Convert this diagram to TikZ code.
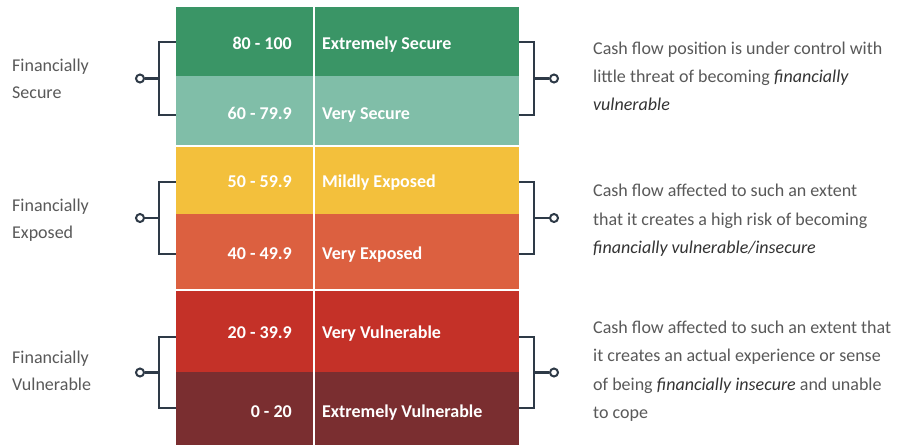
\documentclass[tikz,border=0pt]{standalone}
\usepackage{fontspec}
\setmainfont{Carlito}
\definecolor{cA}{HTML}{3A9566}
\definecolor{cB}{HTML}{80BEA8}
\definecolor{cC}{HTML}{F3C03C}
\definecolor{cD}{HTML}{DC6040}
\definecolor{cE}{HTML}{C43128}
\definecolor{cF}{HTML}{7A2E30}
\definecolor{brk}{HTML}{2E3A47}
\definecolor{txt}{HTML}{595959}
\definecolor{emtxt}{HTML}{333333}
\begin{document}
\begin{tikzpicture}[x=1pt,y=-1pt,
  cellL/.style={draw=none, inner sep=0, minimum width=137pt},
  cellR/.style={draw=none, inner sep=0, minimum width=204pt},
  num/.style={font=\fontsize{18}{22}\selectfont\bfseries, text=white, anchor=base east, inner sep=0},
  lab/.style={font=\fontsize{18}{22}\selectfont\bfseries, text=white, anchor=base west, inner sep=0},
  side/.style={font=\fontsize{18}{27}\selectfont, text=txt, anchor=base west, inner sep=0, align=left},
  desc/.style={font=\fontsize{18}{28.2}\selectfont, text=txt, anchor=base west, inner sep=0, align=left},
  brack/.style={draw=brk, line width=2.2pt},
  dot/.style={circle, draw=brk, line width=2pt, fill=white, inner sep=0, minimum size=8pt}
]
\useasboundingbox (0,0) rectangle (902,445);
\fill[white] (0,0) rectangle (902,445);

% cells
\node[cellL, fill=cA, minimum height=69pt]   (r1l) at (244.5,41.5) {};
\node[cellR, fill=cA, minimum height=69pt]   (r1r) at (417,41.5) {};
\node[cellL, fill=cB, minimum height=68.5pt] (r2l) at (244.5,110.25) {};
\node[cellR, fill=cB, minimum height=68.5pt] (r2r) at (417,110.25) {};
\node[cellL, fill=cC, minimum height=67.5pt] (r3l) at (244.5,180.25) {};
\node[cellR, fill=cC, minimum height=67.5pt] (r3r) at (417,180.25) {};
\node[cellL, fill=cD, minimum height=74.7pt] (r4l) at (244.5,251.35) {};
\node[cellR, fill=cD, minimum height=74.7pt] (r4r) at (417,251.35) {};
\node[cellL, fill=cE, minimum height=81pt]   (r5l) at (244.5,331.5) {};
\node[cellR, fill=cE, minimum height=81pt]   (r5r) at (417,331.5) {};
\node[cellL, fill=cF, minimum height=73pt]   (r6l) at (244.5,408.5) {};
\node[cellR, fill=cF, minimum height=73pt]   (r6r) at (417,408.5) {};

% cell texts
\node[num] (n1) at (292,49.3) {80 - 100};
\node[num] (n2) at (292,119) {60 - 79.9};
\node[num] (n3) at (292,187.3) {50 - 59.9};
\node[num] (n4) at (292,259.3) {40 - 49.9};
\node[num] (n5) at (292,338.3) {20 - 39.9};
\node[num] (n6) at (292,417.3) {0 - 20};
\node[lab] (l1) at (322,49.3) {Extremely Secure};
\node[lab] (l2) at (322,119) {Very Secure};
\node[lab] (l3) at (322,187.3) {Mildly Exposed};
\node[lab] (l4) at (322,259.3) {Very Exposed};
\node[lab] (l5) at (322,338.3) {Very Vulnerable};
\node[lab] (l6) at (322,417.3) {Extremely Vulnerable};

% side labels (anchor = baseline of last line)
\node[side] (s1) at (12,98) {Financially\\Secure};
\node[side] (s2) at (12,238.3) {Financially\\Exposed};
\node[side] (s3) at (12,390) {Financially\\Vulnerable};

% descriptions (anchor = baseline of last line)
\node[desc] (d1) at (593,110.7) {Cash flow position is under control with\\little threat of becoming \textcolor{emtxt}{\itshape financially}\\\textcolor{emtxt}{\itshape vulnerable}};
\node[desc] (d2) at (593,253.3) {Cash flow affected to such an extent\\that it creates a high risk of becoming\\\textcolor{emtxt}{\itshape financially vulnerable/insecure}};
\node[desc] (d3) at (593,418.3) {Cash flow affected to such an extent that\\it creates an actual experience or sense\\of being \textcolor{emtxt}{\itshape financially insecure} and unable\\to cope};

% bracket dots
\node[dot] (ld1) at (140,78.5) {};
\node[dot] (ld2) at (140,218) {};
\node[dot] (ld3) at (140,372.5) {};
\node[dot] (rd1) at (554,78.5) {};
\node[dot] (rd2) at (554,218) {};
\node[dot] (rd3) at (554,372.5) {};

% left brackets
\draw[brack] (r1l.west |- 0,42) -| (159,115) -- (r2l.west |- 0,115);
\draw[brack] (ld1) -- (159,78.5);
\draw[brack] (r3l.west |- 0,182) -| (159,254) -- (r4l.west |- 0,254);
\draw[brack] (ld2) -- (159,218);
\draw[brack] (r5l.west |- 0,337) -| (159,408) -- (r6l.west |- 0,408);
\draw[brack] (ld3) -- (159,372.5);
% right brackets
\draw[brack] (r1r.east |- 0,42) -| (534,115) -- (r2r.east |- 0,115);
\draw[brack] (rd1) -- (534,78.5);
\draw[brack] (r3r.east |- 0,182) -| (534,254) -- (r4r.east |- 0,254);
\draw[brack] (rd2) -- (534,218);
\draw[brack] (r5r.east |- 0,337) -| (534,408) -- (r6r.east |- 0,408);
\draw[brack] (rd3) -- (534,372.5);
\end{tikzpicture}
\end{document}
